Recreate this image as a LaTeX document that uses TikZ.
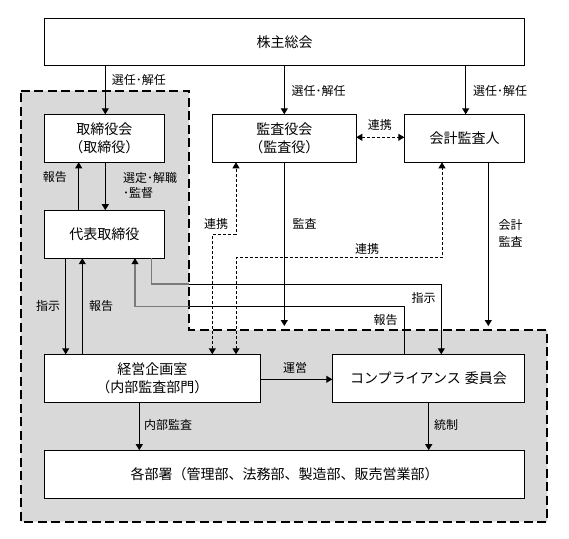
\documentclass[tikz,border=0pt]{standalone}
\usepackage{fontspec}
\setmainfont{Noto Sans CJK JP}
\usetikzlibrary{arrows.meta}
\definecolor{regiongray}{HTML}{D9D9D9}
\definecolor{dimline}{HTML}{7A7A7A}
\begin{document}
\begin{tikzpicture}[x=1pt,y=-1pt,
  box/.style={draw=black,line width=1.1pt,fill=white,inner sep=0pt,outer sep=0pt,align=center,
    font=\fontsize{14}{18}\selectfont},
  con/.style={line width=0.9pt,draw=black},
  arr/.style={con,-{Triangle[length=6pt,width=7pt]}},
  darr/.style={con,dash pattern=on 3pt off 2pt,{Triangle[length=6pt,width=7pt]}-{Triangle[length=6pt,width=7pt]}},
  dimcon/.style={line width=1.2pt,draw=dimline},
  lbl/.style={font=\fontsize{12}{15}\selectfont,inner sep=0pt,anchor=west,align=left},
  region/.style={fill=regiongray,draw=black,line width=2pt,dash pattern=on 9pt off 4.5pt}
]
\useasboundingbox (0,0) rectangle (569,538);
\fill[white] (0,0) rectangle (569,538);

% grey dashed region
\draw[region] (20.7,90.7) -- (189,90.7) -- (189,330) -- (547.3,330) -- (547.3,521.7) -- (20.7,521.7) -- cycle;
\coordinate (regcorner) at (189,330);

% boxes
\node[box,minimum width=480.4pt,minimum height=47.4pt] (top) at (284.5,42) {株主総会};
\node[box,minimum width=120pt,minimum height=48pt] (tori) at (104.3,138.3) {取締役会\\（取締役）};
\node[box,minimum width=144pt,minimum height=48pt] (kansa) at (284.3,138.3) {監査役会\\（監査役）};
\node[box,minimum width=120.4pt,minimum height=48pt] (kaikei) at (464.5,138.3) {会計監査人};
\node[box,minimum width=120pt,minimum height=48pt] (daihyo) at (104.3,234.2) {代表取締役};
\node[box,minimum width=216pt,minimum height=48pt] (keiei) at (152.3,378.3) {経営企画室\\（内部監査部門）};
\node[box,minimum width=192.4pt,minimum height=48pt] (comp) at (428.5,378.3) {コンプライアンス\hspace{4pt}委員会};
\node[box,minimum width=480.4pt,minimum height=48pt] (kaku) at (284.5,474.2) {各部署（管理部、法務部、製造部、販売営業部）};

% helper coordinates
\coordinate (xa) at (105.3,0);
\coordinate (xb) at (284.3,0);
\coordinate (xc) at (465.7,0);
\coordinate (xhoU) at (78.7,0);
\coordinate (xsen) at (105.3,0);
\coordinate (xshiji) at (65.7,0);
\coordinate (xhoD) at (82.3,0);
\coordinate (shijiA) at (151.7,284);
\coordinate (shijiB) at (441.3,284);
\coordinate (hokokuR) at (404.3,306.7);
\coordinate (hokokuL) at (135,306.7);
\coordinate (renA) at (212.3,234.3);
\coordinate (renB) at (236,234.3);
\coordinate (renC) at (236,257.3);
\coordinate (renD) at (442,257.3);
\coordinate (kansaEnd) at (284.3,326);
\coordinate (kaikeiEnd) at (488.3,326);
\coordinate (xnaibu) at (139.3,0);
\coordinate (xtosei) at (428.7,0);

% from shareholders
\draw[arr] (top.south -| xa) -- (tori.north -| xa);
\draw[arr] (top.south -| xb) -- (kansa.north -| xb);
\draw[arr] (top.south -| xc) -- (kaikei.north -| xc);

% board <-> representative
\draw[arr] (daihyo.north -| xhoU) -- (tori.south -| xhoU);
\draw[arr] (tori.south -| xsen) -- (daihyo.north -| xsen);

% representative <-> planning
\draw[arr] (daihyo.south -| xshiji) -- (keiei.north -| xshiji);
\draw[arr] (keiei.north -| xhoD) -- (daihyo.south -| xhoD);

% instruction to compliance
\draw[dimcon] (daihyo.south -| shijiA) -- (shijiA) -- (regcorner |- shijiA);
\draw[arr] (regcorner |- shijiA) -- (shijiB) -- (comp.north -| shijiB);

% report from compliance
\draw[con] (comp.north -| hokokuR) -- (hokokuR) -- (regcorner |- hokokuR);
\draw[dimcon,-{Triangle[length=6pt,width=7pt,color=black]}] (regcorner |- hokokuR) -- (hokokuL) -- (daihyo.south -| hokokuL);

% cooperation lines
\draw[darr] (kansa.east |- 0,137.3) -- (kaikei.west |- 0,137.3);
\draw[darr] (keiei.north -| renA) -- (renA) -- (renB) -- (kansa.south -| renB);
\draw[darr] (keiei.north -| renC) -- (renC) -- (renD) -- (kaikei.south -| renD);

% audits
\draw[arr] (kansa.south -| kansaEnd) -- (kansaEnd);
\draw[arr] (kaikei.south -| kaikeiEnd) -- (kaikeiEnd);

% operation, internal audit, control
\draw[arr] (keiei.east |- 0,379.3) -- (comp.west |- 0,379.3);
\draw[arr] (keiei.south -| xnaibu) -- (kaku.north -| xnaibu);
\draw[arr] (comp.south -| xtosei) -- (kaku.north -| xtosei);

% labels
\node[lbl] (l1) at (111.7,80) {選任･解任};
\node[lbl] (l2) at (291.3,90.7) {選任･解任};
\node[lbl] (l3) at (473,90.7) {選任･解任};
\node[lbl] (l4) at (42.7,176.7) {報告};
\node[lbl] (l5) at (123,185.8) {選定･解職\\･監督};
\node[lbl] (l6) at (367.7,125) {連携};
\node[lbl] (l7) at (204,224) {連携};
\node[lbl] (l8) at (292.3,224) {監査};
\node[lbl,font=\fontsize{12}{16.7}\selectfont] (l9) at (498.3,233.3) {会計\\監査};
\node[lbl] (l10) at (355,249.3) {連携};
\node[lbl] (l11) at (411.3,297.7) {指示};
\node[lbl] (l12) at (373.3,320) {報告};
\node[lbl] (l13) at (36,306) {指示};
\node[lbl] (l14) at (89,306) {報告};
\node[lbl] (l15) at (283,368.3) {運営};
\node[lbl] (l16) at (144,425) {内部監査};
\node[lbl] (l17) at (434,425) {統制};
\end{tikzpicture}
\end{document}
